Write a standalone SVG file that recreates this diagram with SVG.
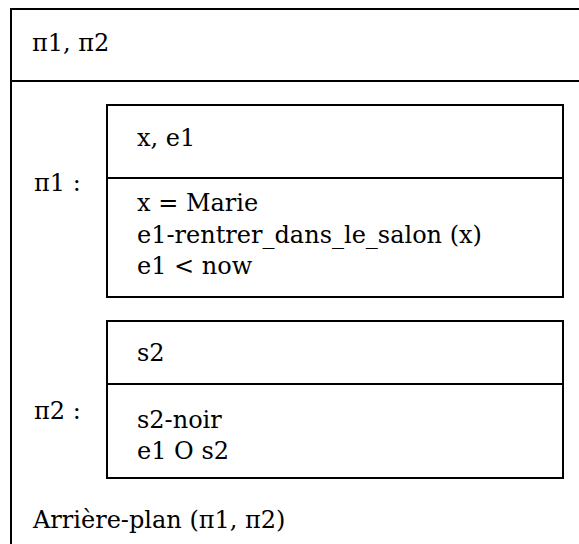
<svg xmlns="http://www.w3.org/2000/svg" width="579" height="544" viewBox="0 0 579 544">
<style>
.box{fill:none;stroke:#000;stroke-width:2}
.ln{stroke:#000;stroke-width:2}
.t{font-family:'DejaVu Serif','Liberation Serif',serif;font-size:24px;fill:#000}
</style>
<rect width="579" height="544" fill="#fff"/>
<g id="outer">
<rect class="box" x="11" y="9" width="600" height="600"/>
<line class="ln" x1="11" y1="81" x2="579" y2="81"/>
<text class="t" x="32" y="51">π1, π2</text>
<text class="t" x="33" y="528">Arrière-plan (π1, π2)</text>
</g>
<g id="pi1">
<text class="t" x="34" y="191">π1 :</text>
<rect class="box" x="107" y="105" width="456" height="192"/>
<line class="ln" x1="107" y1="178" x2="563" y2="178"/>
<text class="t" x="137" y="146">x, e1</text>
<text class="t" x="137" y="211">x = Marie</text>
<text class="t" x="137" y="243">e1-rentrer_dans_le_salon (x)</text>
<text class="t" x="137" y="274">e1 &lt; now</text>
</g>
<g id="pi2">
<text class="t" x="34" y="419">π2 :</text>
<rect class="box" x="107" y="321" width="456" height="157"/>
<line class="ln" x1="107" y1="384" x2="563" y2="384"/>
<text class="t" x="137" y="361">s2</text>
<text class="t" x="137" y="428">s2-noir</text>
<text class="t" x="137" y="459">e1 O s2</text>
</g>
<g id="connectors"/>
</svg>
